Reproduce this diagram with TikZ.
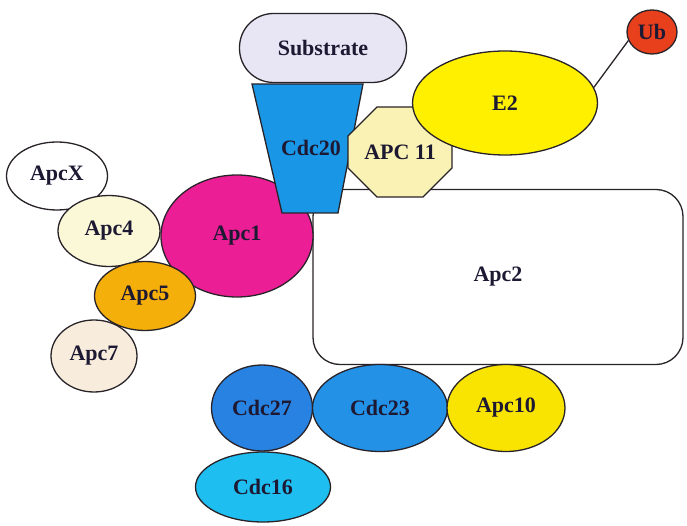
\documentclass[tikz,border=0pt]{standalone}
\usepackage{fontspec}
\setmainfont{Liberation Serif}
\usepackage{xcolor}
\usetikzlibrary{shapes.geometric}

\definecolor{lineC}{RGB}{40,35,40}
\definecolor{txtC}{RGB}{30,25,50}
\definecolor{substrateC}{RGB}{232,230,245}
\definecolor{cdcBlue}{RGB}{25,150,230}
\definecolor{apcPale}{RGB}{250,242,180}
\definecolor{e2Y}{RGB}{255,240,0}
\definecolor{ubR}{RGB}{232,64,28}
\definecolor{apcPink}{RGB}{235,30,150}
\definecolor{apcCream}{RGB}{250,248,215}
\definecolor{apcOrange}{RGB}{245,175,10}
\definecolor{apcBeige}{RGB}{248,236,220}
\definecolor{cdcMid}{RGB}{40,130,225}
\definecolor{cdcLight}{RGB}{35,145,230}
\definecolor{apcY}{RGB}{248,228,0}
\definecolor{cdcCyan}{RGB}{30,190,240}

\begin{document}
\begin{tikzpicture}[x=1pt, y=-1pt,
  lbl/.style={font=\bfseries\fontsize{22}{24}\selectfont, text=txtC, inner sep=0pt},
  blob/.style={ellipse, draw=lineC, line width=1.3pt, lbl},
  slab/.style={rectangle, draw=lineC, line width=1.3pt, lbl},
  rim/.style={draw=lineC, line width=1.3pt},
]
  \useasboundingbox (0,0) rectangle (687,526);

  % top: substrate and Apc2 body
  \node[slab, fill=substrateC, rounded corners=34pt, minimum width=167pt, minimum height=69pt] (sub) at (323,48) {Substrate};
  \node[slab, fill=white, rounded corners=27pt, minimum width=370pt, minimum height=175pt] (apc2) at (498,277) {Apc2};

  % Apc1
  \node[blob, fill=apcPink, minimum width=152pt, minimum height=122pt] (apc1) at (237,236) {Apc1};

  % Cdc20 (trapezoid)
  \filldraw[rim, fill=cdcBlue] (252,84) -- (363,84) -- (338,213) -- (282,213) -- cycle;
  \node[lbl] (cdc20) at (311,148) {Cdc20};

  % APC 11 (octagon)
  \filldraw[rim, fill=apcPale] (377,107) -- (423,107) -- (452,136) -- (452,168)
    -- (423,197) -- (377,197) -- (348,168) -- (348,136) -- cycle;
  \node[lbl] (apc11) at (400,152) {APC 11};

  % E2 and Ub
  \node[blob, fill=e2Y, minimum width=185pt, minimum height=104pt] (e2) at (505,103) {E2};
  \node[blob, fill=ubR, minimum width=50pt, minimum height=44pt] (ub) at (652,32) {Ub};
  \draw[lineC, line width=1.3pt] (e2.10) -- (ub.200);

  % left arm
  \node[blob, fill=apcBeige, minimum width=86pt, minimum height=72pt] (apc7) at (94,356) {Apc7};
  \node[blob, fill=white, minimum width=101pt, minimum height=68pt] (apcx) at (57,176) {ApcX};
  \node[blob, fill=apcCream, minimum width=102pt, minimum height=71pt] (apc4) at (109,231) {Apc4};
  \node[blob, fill=apcOrange, minimum width=101pt, minimum height=69pt] (apc5) at (145,296) {Apc5};

  % bottom arm
  \node[blob, fill=cdcCyan, minimum width=135pt, minimum height=70pt] (cdc16) at (263,487) {Cdc16};
  \node[blob, fill=cdcMid, minimum width=101pt, minimum height=86pt] (cdc27) at (262,408) {Cdc27};
  \node[blob, fill=cdcLight, minimum width=135pt, minimum height=87pt] (cdc23) at (380,408) {Cdc23};
  \node[blob, fill=apcY, minimum width=118pt, minimum height=87pt] (apc10) at (506,408) {Apc10};
\end{tikzpicture}
\end{document}
